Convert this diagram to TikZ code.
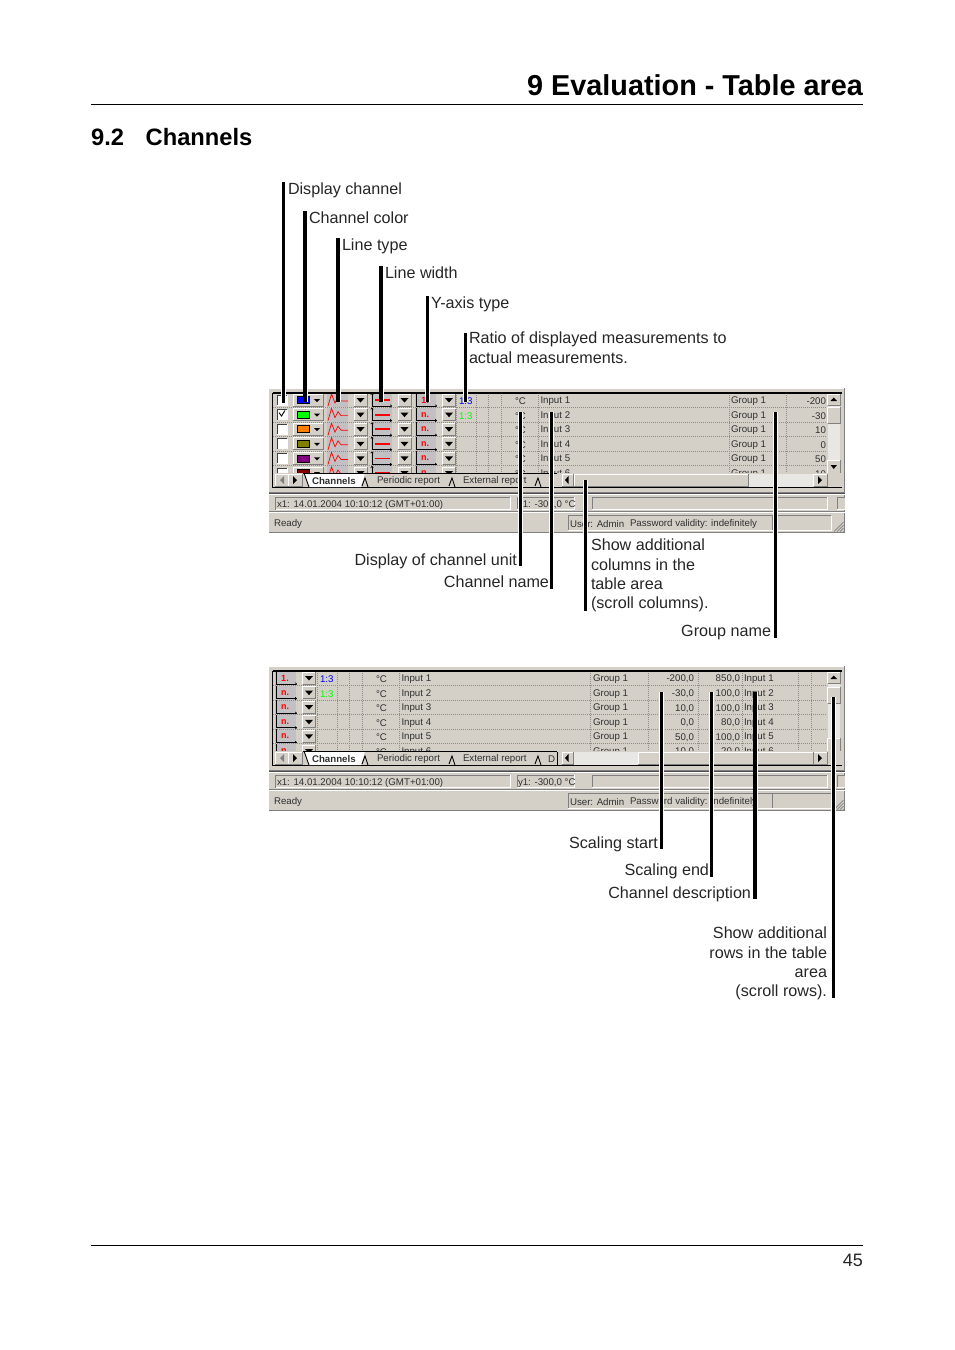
\documentclass[tikz,border=0pt]{standalone}
\usepackage{fontspec}
\usetikzlibrary{arrows.meta}
\setmainfont{Liberation Sans}
\definecolor{winbg}{HTML}{D4D0C8}
\definecolor{icobg}{HTML}{C3C0C4}
\definecolor{winsh}{HTML}{808080}
\definecolor{dith}{HTML}{E9E7E3}
\definecolor{gridc}{HTML}{8E8C88}
\definecolor{wintx}{HTML}{303030}
\definecolor{maroonc}{HTML}{800000}
\definecolor{purplec}{HTML}{800080}
\definecolor{orangec}{HTML}{FF8000}
\definecolor{olivec}{HTML}{808000}
\definecolor{greenc}{HTML}{00FF00}
\definecolor{bluec}{HTML}{0000FF}
\newcounter{tn}
\tikzset{
  x=1pt,y=-1pt,
  lbl/.style={font=\fontsize{16.15}{19}\selectfont,text=black!85,inner sep=0pt,outer sep=0pt},
  lblW/.style={lbl,anchor=base west},
  lblE/.style={lbl,anchor=base east},
  bar/.style={line width=3.3pt,black,preaction={draw,white,line width=5pt}},
  rulee/.style={line width=0.8pt,black},
  sc/.style={font=\fontsize{9.7}{11}\selectfont,text=wintx,inner sep=0pt,outer sep=0pt},
  scW/.style={sc,anchor=west},
  scE/.style={sc,anchor=east},
  grid/.style={gridc,line width=0.7pt,dash pattern=on 1pt off 1pt},
}
\newcommand\raised[4]{\fill[winbg](#1,#2) rectangle (#3,#4);
  \draw[white,line width=0.8pt](#1,#4)--(#1,#2)--(#3,#2);
  \draw[winsh,line width=0.8pt](#1,#4)--(#3,#4)--(#3,#2);}
\newcommand\sunken[5]{\fill[#5](#1,#2) rectangle (#3,#4);
  \draw[winsh,line width=0.8pt](#1,#4)--(#1,#2)--(#3,#2);
  \draw[white,line width=0.8pt](#1,#4)--(#3,#4)--(#3,#2);}
\newcommand\st[3]{\stepcounter{tn}\node[scW] (t\arabic{tn}) at (#1,#2+1.2) {#3};}
\newcommand\se[3]{\stepcounter{tn}\node[scE] (t\arabic{tn}) at (#1,#2+1.2) {#3};}
% drop-down button centred on (x,y)
\newcommand\ddbtn[2]{\raised{#1-6.5}{#2-6}{#1+6.5}{#2+6}
  \fill[black](#1-4,#2-2)--(#1+4,#2-2)--(#1,#2+2.5)--cycle;}
% y-axis icon + button; #1 = x offset
\newcommand\yicon[3]{% x offset, y, text
  \fill[icobg](415+#1,#2-7) rectangle (436+#1,#2+7.3);
  \draw[black,line width=0.7pt,-{To[length=2pt,width=3pt]}](416+#1,#2-7)--(416+#1,#2+6)--(437+#1,#2+6);
  \stepcounter{tn}\node[inner sep=0pt,font=\fontsize{9}{10}\bfseries\selectfont,text=red] (t\arabic{tn}) at (425+#1,#2) {#3};
  \ddbtn{449+#1}{#2}}
\newcommand\rowlines{\foreach \r in {1,...,5}{\draw[grid](273,{12+14.6*\r-7.3})--(827,{12+14.6*\r-7.3});}}
% chrome common to both windows
\newcommand\chrome{%
  \fill[winbg](269,0) rectangle (845,144.5);
  \draw[white,line width=1pt](269,0.5)--(845,0.5);
  \draw[winsh,line width=0.8pt](269,144.5)--(845,144.5);
  \draw[winsh,line width=0.8pt](844.5,0)--(844.5,144.5);
}
\newcommand\chromeb[5]{%
  \fill[winbg](273,85) rectangle (843,104);
  \draw[black,line width=1.1pt](272.5,5)--(842,5);
  \draw[black,line width=1.1pt](272.5,5)--(272.5,99.5)--(842,99.5);
  % nav buttons
  \raised{275}{86}{288}{98}\raised{288.5}{86}{302}{98}
  \fill[winsh](284,88)--(284,96)--(280,92)--cycle;
  \fill[black](293,88)--(293,96)--(297,92)--cycle;
  % tabs
  \fill[white](304,85)--(309,99)--(361,99)--(365,85)--cycle;
  \draw[black,line width=0.9pt](304,85)--(309,99);
  \draw[black,line width=0.9pt](362,98)--(365,90)--(368,99);
  \draw[black,line width=0.9pt](449,98)--(452,90)--(455,99);
  \draw[black,line width=0.9pt](535,98)--(538,90)--(541,99);
  \draw[black,line width=0.9pt](303,85)--(#3,85);
  \stepcounter{tn}\node[sc,anchor=west,font=\fontsize{9.7}{11}\bfseries\selectfont] (t\arabic{tn}) at (312,92.6) {Channels};
  \st{377}{92}{Periodic report}\st{463}{92}{External report}
  #4
  % hscroll
  \raised{562}{86}{573}{98}
  \fill[black](568.5,88)--(568.5,96)--(565,92)--cycle;
  \raised{813.5}{86}{827}{98}
  \fill[black](818,88)--(818,96)--(822,92)--cycle;
  #5
  % separators
  \draw[winsh,line width=1pt](269,104.2)--(845,104.2);
  \draw[black!70,line width=1pt](269,105.3)--(845,105.3);
  \draw[white,line width=0.8pt](269,106.4)--(845,106.4);
  \sunken{275.5}{109}{510}{121.5}{winbg}
  \sunken{517}{109}{574}{121.5}{winbg}
  \sunken{592}{109}{827}{121.5}{winbg}
  \sunken{837}{109}{845}{121.5}{winbg}
  \st{277}{115.5}{x1: 14.01.2004 10:10:12 (GMT+01:00)}
  \st{#1}{115.5}{#2}
  \draw[winsh,line width=0.7pt](269,123.5)--(845,123.5);
  \draw[white,line width=0.7pt](269,124.3)--(845,124.3);
  \st{274}{134.5}{Ready}
  \sunken{568}{127.5}{772}{142}{winbg}
  \sunken{772.5}{127.5}{831}{142}{winbg}
  \st{570}{134.5}{User: Admin}
  \st{630}{134.5}{Password validity: indefinitely}
  \foreach \k in {0,3,6,9}{\draw[winsh,line width=0.7pt](843.5,{134+\k})--({834+\k},143.5);}
}
\newcommand\vscroll{%
  \fill[dith](827.5,6) rectangle (840,85);
}
\begin{document}
\begin{tikzpicture}
\useasboundingbox (0,0) rectangle (954,1350);
\fill[white](0,0) rectangle (954,1350);

% page furniture
\node[inner sep=0pt,anchor=base east,font=\fontsize{28.8}{34}\bfseries\selectfont] (title) at (863,95) {9 Evaluation - Table area};
\coordinate (r1a) at (91,104.5);\coordinate (r1b) at (863,104.5);
\draw[rulee](r1a)--(r1b);
\node[inner sep=0pt,anchor=base west,font=\fontsize{23.7}{28}\bfseries\selectfont] (secn) at (91,145.5) {9.2};
\node[inner sep=0pt,anchor=base west,font=\fontsize{23.7}{28}\bfseries\selectfont] (sect) at (145.5,145.5) {Channels};
\coordinate (r2a) at (91,1245.5);\coordinate (r2b) at (863,1245.5);
\draw[rulee](r2a)--(r2b);
\node[lblE,font=\fontsize{18}{20}\selectfont] (pg) at (863,1266) {45};

% ---------- upper window
\begin{scope}[shift={(0,388)}]
\chrome
\begin{scope}
\clip (273,5) rectangle (827,85);
\foreach \r/\c in {0/bluec,1/greenc,2/orangec,3/olivec,4/purplec,5/maroonc}{
  \pgfmathsetmacro\yy{12+14.6*\r}
  \sunken{277}{\yy-5}{287}{\yy+5}{white}
  \draw[black!75,line width=0.8pt](277,\yy+5)--(277,\yy-5)--(287,\yy-5);
  \raised{293}{\yy-6}{323}{\yy+6}
  \fill[\c,draw=black,line width=0.7pt](297,\yy-3.5) rectangle (309,\yy+3.5);
  \fill[black](314,\yy-1)--(320,\yy-1)--(317,\yy+2)--cycle;
  \fill[icobg](327,\yy-7) rectangle (348,\yy+7.3);
  \draw[red,line width=0.7pt](328,\yy+6)--(331.5,\yy-6)--(335,\yy+3)--(338,\yy-3)--(341,\yy+1)--(348,\yy+1);
  \ddbtn{360.5}{\yy}
  \fill[icobg](371,\yy-7) rectangle (392,\yy+7.3);
  \draw[black,line width=0.7pt,{To[length=2pt,width=3pt]}-{To[length=2pt,width=3pt]}](372,\yy-7)--(372,\yy+6)--(392,\yy+6);
  \draw[red,line width=1.8pt](375,\yy)--(390,\yy);
  \ddbtn{404.5}{\yy}
  \st{515}{\yy}{°C}
  \st{540.5}{\yy}{Input \the\numexpr\r+1\relax}
  \st{731}{\yy}{Group 1}
}
\yicon{0}{12}{1.}\yicon{0}{26.6}{n.}\yicon{0}{41.2}{n.}\yicon{0}{55.8}{n.}\yicon{0}{70.4}{n.}\yicon{0}{85}{n.}
\draw[black,line width=0.9pt](279,24.6)--(281.5,28)--(285,22.5);
\foreach \vx in {456,476,488,501,538,729,786}{\draw[grid](\vx,5)--(\vx,85);}
\rowlines
\st{459}{12}{\textcolor{bluec}{1:3}}\st{459}{26.6}{\textcolor{greenc}{1:3}}
\se{826}{12}{-200}\se{826}{26.6}{-30}\se{826}{41.2}{10}\se{826}{55.8}{0}\se{826}{70.4}{50}\se{826}{85}{-10}
\end{scope}
\vscroll
\raised{827.5}{6}{840}{17}\fill[black](830.5,13)--(837,13)--(833.7,9.5)--cycle;
\raised{827.5}{19}{840}{35}
\raised{827.5}{72}{840}{85}\fill[black](830.5,77)--(837,77)--(833.7,81)--cycle;
\chromeb{518}{y1: -300,0 °C}{557}{}{\raised{574}{86}{748}{98}\fill[dith](748.5,85.5) rectangle (813,98.5);}
\end{scope}

% ---------- lower window
\begin{scope}[shift={(0,666)}]
\chrome
\begin{scope}
\clip (273,5) rectangle (827,85);
\foreach \r in {0,...,5}{
  \pgfmathsetmacro\yy{12+14.6*\r}
  \st{376}{\yy}{°C}
  \st{401.5}{\yy}{Input \the\numexpr\r+1\relax}
  \st{593}{\yy}{Group 1}
}
\yicon{-140}{12}{1.}\yicon{-140}{26.6}{n.}\yicon{-140}{41.2}{n.}\yicon{-140}{55.8}{n.}\yicon{-140}{70.4}{n.}\yicon{-140}{85}{n.}
\foreach \vx in {317,337,349,362,399,590,648,698,742,798,811}{\draw[grid](\vx,5)--(\vx,85);}
\rowlines
\st{320}{12}{\textcolor{bluec}{1:3}}\st{320}{26.6}{\textcolor{greenc}{1:3}}
\se{694}{12}{-200,0}\se{694}{26.6}{-30,0}\se{694}{41.2}{10,0}\se{694}{55.8}{0,0}\se{694}{70.4}{50,0}\se{694}{85}{-10,0}
\se{740}{12}{850,0}\se{740}{26.6}{100,0}\se{740}{41.2}{100,0}\se{740}{55.8}{80,0}\se{740}{70.4}{100,0}\se{740}{85}{20,0}
\st{744}{12}{Input 1}\st{744}{26.6}{Input 2}\st{744}{41.2}{Input 3}\st{744}{55.8}{Input 4}\st{744}{70.4}{Input 5}\st{744}{85}{Input 6}
\end{scope}
\vscroll
\raised{827.5}{6}{840}{17}\fill[black](830.5,13)--(837,13)--(833.7,9.5)--cycle;
\raised{827.5}{21}{840}{37}
\raised{827.5}{72}{840}{85}
\chromeb{518}{y1: -300,0 °C}{557}{\st{548}{92}{D}\draw[black,line width=0.9pt](557,86)--(557,99);}{\fill[dith](574,85.5) rectangle (638,98.5);\raised{638}{86}{813}{98}}
\end{scope}

% ---------- labels
\node[lblW] (l1) at (288,194) {Display channel};
\node[lblW] (l2) at (309,223) {Channel color};
\node[lblW] (l3) at (342,250) {Line type};
\node[lblW] (l4) at (385,278) {Line width};
\node[lblW] (l5) at (431,308) {Y-axis type};
\node[lblW] (l6a) at (469,343) {Ratio of displayed measurements to};
\node[lblW] (l6b) at (469,363) {actual measurements.};
\node[lblE] (l7) at (517,565) {Display of channel unit};
\node[lblE] (l8) at (549,587) {Channel name};
\node[lblW] (l9a) at (591,550) {Show additional};
\node[lblW] (l9b) at (591,570) {columns in the};
\node[lblW] (l9c) at (591,589) {table area};
\node[lblW] (l9d) at (591,608) {(scroll columns).};
\node[lblE] (l10) at (771,636) {Group name};
\node[lblE] (l11) at (658,848) {Scaling start};
\node[lblE] (l12) at (709,875) {Scaling end};
\node[lblE] (l13) at (751,898) {Channel description};
\node[lblE] (l14a) at (827,938) {Show additional};
\node[lblE] (l14b) at (827,958) {rows in the table};
\node[lblE] (l14c) at (827,977) {area};
\node[lblE] (l14d) at (827,996) {(scroll rows).};

% ---------- callout bars
\foreach \n/\x/\a/\b in {
  a/283.7/182/403,
  b/305/211/402,
  c/338/238/402,
  d/381/266/402,
  e/427.7/296/402,
  f/465.7/333/402,
  g/520.7/412/566,
  h/551.5/412/589,
  i/585.5/480/611,
  j/775.8/412/638,
  k/661.7/692/849,
  l/711.8/692/877,
  m/755/692/899,
  n/833.7/697/998}{
  \coordinate (\n1) at (\x,\a);
  \coordinate (\n2) at (\x,\b);
  \draw[bar] (\n1)--(\n2);
}
\end{tikzpicture}
\end{document}
